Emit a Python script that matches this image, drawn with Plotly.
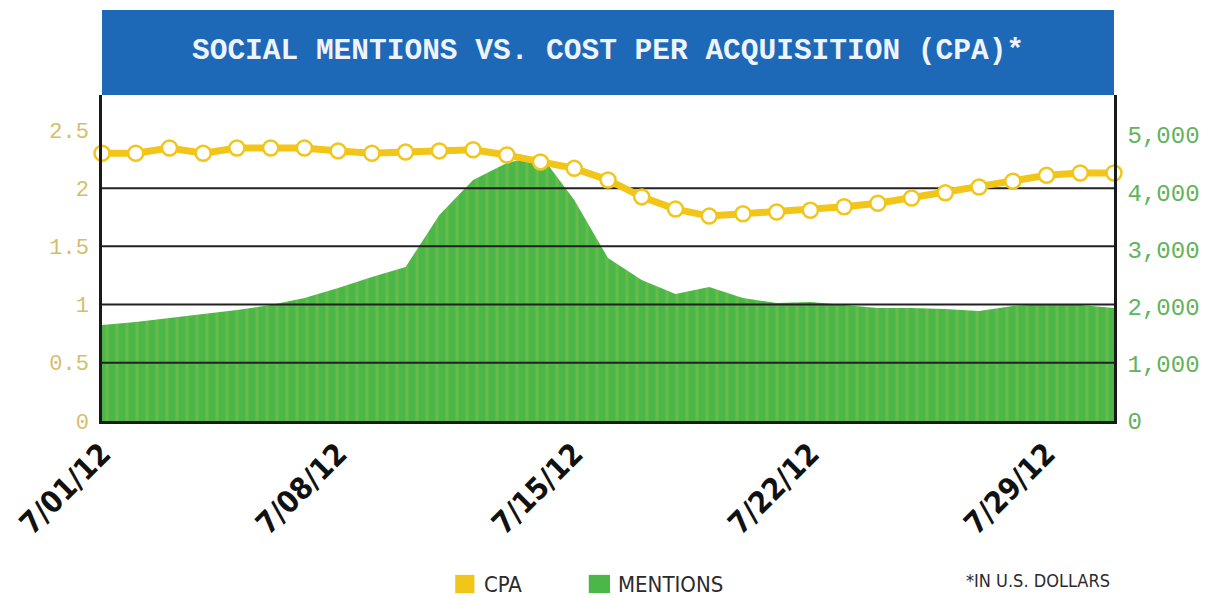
import plotly.graph_objects as go

# ---------------- data ----------------
DATES = [f"2012-07-{d:02d}" for d in range(1, 32)]
CPA = [2.30, 2.30, 2.345, 2.30, 2.345, 2.345, 2.345, 2.32, 2.30, 2.31, 2.32,
       2.33, 2.285, 2.225, 2.17, 2.07, 1.925, 1.82, 1.76, 1.78, 1.795, 1.81,
       1.84, 1.87, 1.915, 1.96, 2.01, 2.06, 2.11, 2.13, 2.13]
MENTIONS = [1678, 1731, 1800, 1870, 1940, 2028, 2150, 2325, 2517, 2692, 3601,
            4213, 4510, 4650, 3863, 2849, 2465, 2220, 2342, 2150, 2063, 2080,
            2028, 1975, 1975, 1958, 1923, 2010, 2045, 2028, 1975]
TICK_DATES = ["2012-07-01", "2012-07-08", "2012-07-15", "2012-07-22", "2012-07-29"]
TICK_TEXT = ["7/01/12", "7/08/12", "7/15/12", "7/22/12", "7/29/12"]
CPA_TICKS = [0, 0.5, 1, 1.5, 2, 2.5]
CPA_TICK_TEXT = ["0", "0.5", "1", "1.5", "2", "2.5"]
MENTION_TICKS = [0, 1000, 2000, 3000, 4000, 5000]
MENTION_TICK_TEXT = ["0", "1,000", "2,000", "3,000", "4,000", "5,000"]
GRID_LEVELS = [0.5, 1, 1.5, 2]
CPA_RANGE = [0, 2.8]
MENTION_RANGE = [0, 5700]
TITLE = "SOCIAL MENTIONS VS. COST PER ACQUISITION (CPA)*"

# ---------------- styles ----------------
YELLOW = "#f2c519"
GREEN = "#4ab748"
BLUE = "#1e68b8"
AXIS = "#1a1a1a"
NARROW = "Liberation Sans Narrow, DejaVu Sans Condensed, Liberation Sans"

fig = go.Figure()

# Mentions area (base y axis, drawn first / underneath)
fig.add_trace(go.Scatter(
    x=DATES, y=MENTIONS, name="MENTIONS", yaxis="y",
    mode="lines", line=dict(width=0, color=GREEN),
    fill="tozeroy", fillcolor=GREEN,
    fillpattern=dict(shape="|", fgcolor="rgba(170,195,75,0.6)",
                     bgcolor=GREEN, size=10, solidity=0.3),
    hoverinfo="skip", showlegend=False,
))

# horizontal reference lines drawn above the area, below the CPA line
gx, gy = [], []
for g in GRID_LEVELS:
    gx += [DATES[0], DATES[-1], None]
    gy += [g, g, None]
fig.add_trace(go.Scatter(
    x=gx, y=gy, yaxis="y2", mode="lines",
    line=dict(color="#222222", width=2), hoverinfo="skip", showlegend=False,
))

# CPA line
fig.add_trace(go.Scatter(
    x=DATES, y=CPA, name="CPA", yaxis="y2",
    mode="lines+markers", line=dict(color=YELLOW, width=7),
    marker=dict(symbol="circle", size=15, color="white",
                line=dict(color=YELLOW, width=2.5)),
    cliponaxis=False, showlegend=False,
))

fig.update_layout(
    width=1212, height=598,
    margin=dict(l=91, r=84, t=95, b=177),
    paper_bgcolor="white", plot_bgcolor="white",
    showlegend=False,
    xaxis=dict(
        type="date", range=[DATES[0], DATES[-1]],
        tickvals=TICK_DATES, ticktext=TICK_TEXT, tickangle=-45,
        tickfont=dict(family=NARROW, size=30, color="#111", weight="bold"),
        showgrid=False, zeroline=False,
        showline=True, linecolor=AXIS, linewidth=3, ticks="",
    ),
    yaxis=dict(
        side="right", range=MENTION_RANGE,
        tickvals=MENTION_TICKS, ticktext=MENTION_TICK_TEXT,
        tickfont=dict(family="Liberation Mono, DejaVu Sans Mono", size=24, color="#62b35c"),
        showgrid=False, zeroline=False,
        showline=True, linecolor=AXIS, linewidth=2.5, ticks="",
        ticklabelstandoff=6,
    ),
    yaxis2=dict(
        overlaying="y", side="left", range=CPA_RANGE,
        tickvals=CPA_TICKS, ticktext=CPA_TICK_TEXT,
        tickfont=dict(family="Liberation Mono, DejaVu Sans Mono", size=22, color="#d6bd6c"),
        showgrid=False, zeroline=False,
        showline=True, linecolor=AXIS, linewidth=2.5, ticks="",
        ticklabelstandoff=6,
    ),
)

# title band
fig.add_shape(type="rect", xref="paper", yref="paper",
              x0=0, x1=1, y0=1, y1=1 + 85 / 326,
              fillcolor=BLUE, line=dict(width=0), layer="above")
fig.add_annotation(text=TITLE, xref="paper", yref="paper",
                   x=0.5, y=1 + 44 / 326, xanchor="center", yanchor="middle",
                   showarrow=False,
                   font=dict(family="Liberation Mono, DejaVu Sans Mono", size=29.5,
                             color="#eef4ff", weight="bold"))

# custom legend
LEG_FONT = dict(family=NARROW, size=22, color="#2b2b2b")
fig.add_shape(type="rect", xref="paper", yref="paper",
              x0=0.349, x1=0.368, y0=-0.528, y1=-0.472,
              fillcolor=YELLOW, line=dict(width=0))
fig.add_annotation(text="CPA", xref="paper", yref="paper", x=0.375, y=-0.5,
                   xanchor="left", yanchor="middle", showarrow=False, font=LEG_FONT)
fig.add_shape(type="rect", xref="paper", yref="paper",
              x0=0.481, x1=0.502, y0=-0.528, y1=-0.472,
              fillcolor=GREEN, line=dict(width=0))
fig.add_annotation(text="MENTIONS", xref="paper", yref="paper", x=0.508, y=-0.5,
                   xanchor="left", yanchor="middle", showarrow=False, font=LEG_FONT)
fig.add_annotation(text="*IN U.S. DOLLARS", xref="paper", yref="paper", x=0.852, y=-0.49,
                   xanchor="left", yanchor="middle", showarrow=False,
                   font=dict(family=NARROW, size=18, color="#2b2b2b"))

# remove the browser's default 8px body margin so the figure sits at the page corner
fig.write_html("out.html",
               config={"displayModeBar": False},
               post_script="document.body.style.margin='0';document.body.style.overflow='hidden';")
